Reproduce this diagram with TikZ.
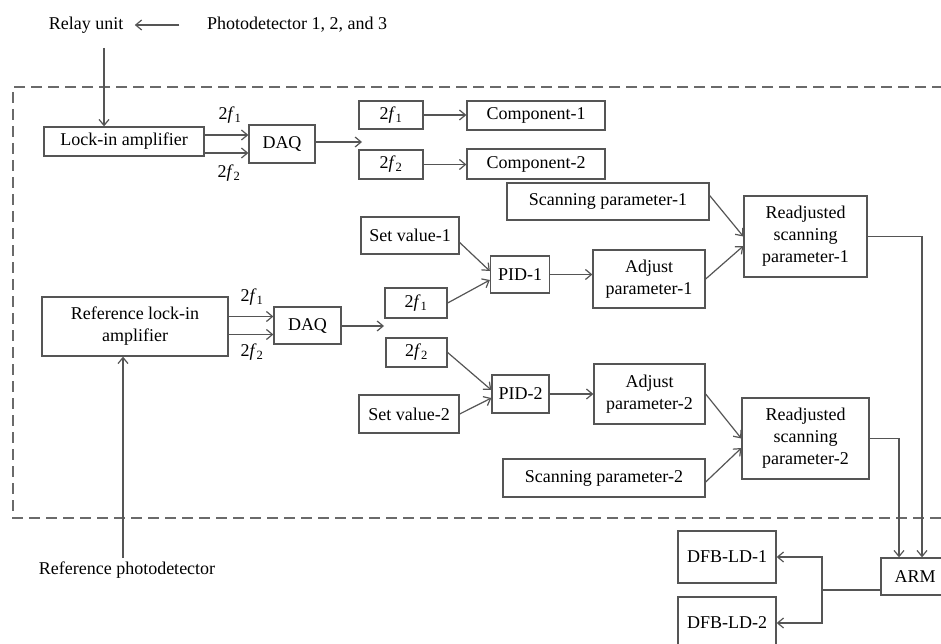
\documentclass[tikz,border=0pt]{standalone}
\usepackage{fontspec}
\setmainfont{Liberation Serif}
\usetikzlibrary{arrows.meta}
\definecolor{linegray}{HTML}{555555}
\definecolor{dashgray}{HTML}{6A6A6A}
\newcommand{\ff}[1]{2\textit{f}\textsubscript{#1}}
\begin{document}
\begin{tikzpicture}[x=1pt,y=-1pt,>={Straight Barb[length=6pt,width=10pt]},
    font=\fontsize{18}{22}\selectfont,
    bx/.style 2 args={draw=linegray,line width=1.3pt,align=center,inner sep=0pt,minimum width=#1pt,minimum height=#2pt},
    wire/.style={draw=linegray,line width=1.2pt}]
\useasboundingbox (0,0) rectangle (941,644);
% dashed frame
\draw[dashgray,line width=1.8pt,dash pattern=on 11pt off 6pt] (960,87) -- (13,87) -- (13,518) -- (960,518);
% boxes
\foreach \n/\x/\y/\w/\h/\t in {
    lia/124/141.5/160/29/{Lock-in amplifier},
    daqA/282/144/66/38/{DAQ},
    fa1/391/115/64/28/{\ff{1}},
    fa2/391/164.5/64/29/{\ff{2}},
    comp1/536/115.5/138/29/{Component-1},
    comp2/536/164/138/30/{Component-2},
    scan1/608/201.5/202/37/{Scanning parameter-1},
    read1/805.5/236.5/123/81/{Readjusted\\scanning\\parameter-1},
    setv1/410/235.5/98/37/{Set value-1},
    pid1/520/274.5/59/37/{PID-1},
    adj1/649/279/112/58/{Adjust\\parameter-1},
    rlia/135/326.5/186/59/{Reference lock-in\\amplifier},
    daqB/307.5/325.5/67/37/{DAQ},
    fb1/416/303/62/30/{\ff{1}},
    fb2/416.5/352.5/61/29/{\ff{2}},
    setv2/409/414/100/38/{Set value-2},
    pid2/520.5/394/57/38/{PID-2},
    adj2/649.5/394/111/60/{Adjust\\parameter-2},
    read2/805.5/438.5/127/81/{Readjusted\\scanning\\parameter-2},
    scan2/604/478/202/38/{Scanning parameter-2},
    arm/915/576.5/68/37/{ARM},
    dfb1/727/557/98/52/{DFB-LD-1},
    dfb2/727/623/98/52/{DFB-LD-2}}
  \node[bx={\w}{\h}] (\n) at (\x,\y) {\t};
% free texts
\node (relay) at (86,25) {Relay unit};
\node (pd) at (297,25) {Photodetector 1, 2, and 3};
\node (refpd) at (127,570) {Reference photodetector};
\node (la1) at (230,115) {\ff{1}};
\node (la2) at (229,173) {\ff{2}};
\node (lb1) at (252,297) {\ff{1}};
\node (lb2) at (252,352) {\ff{2}};
\coordinate (splitA) at (362,142);
\coordinate (splitB) at (384,326);
\coordinate (fork) at (822,590);
% connectors
\draw[wire,->,shorten <=24pt,shorten >=8pt] (pd.west) -- (relay.east);
\draw[wire,->] ([xshift=18pt,yshift=-23pt]relay.center) -- ([xshift=18pt]relay.center |- lia.north);
\draw[wire,->] ([xshift=-4pt]refpd.north) -- ([xshift=-4pt]refpd.north |- rlia.south);
\foreach \s in {9,-9} {
  \draw[wire,->] ([yshift=\s pt]daqA.west -| lia.east) -- ([yshift=\s pt]daqA.west);
  \draw[wire,->] ([yshift=\s pt]daqB.west -| rlia.east) -- ([yshift=\s pt]daqB.west);
}
\draw[wire,->] (daqA.east |- splitA) -- (splitA);
\draw[wire,->] (daqB.east |- splitB) -- (splitB);
\draw[wire,->] (fa1) -- (fa1 -| comp1.west);
\draw[wire,->] (fa2) -- (fa2 -| comp2.west);
\draw[wire,->] ([yshift=-7pt]setv1.east) -- ([yshift=3.5pt]pid1.west);
\draw[wire,->] (fb1.east) -- ([yshift=-5.5pt]pid1.west);
\draw[wire,->] (pid1) -- (pid1 -| adj1.west);
\draw[wire,->] ([yshift=6pt]scan1.east) -- (read1.west);
\draw[wire,->] (adj1.east) -- ([yshift=-9.5pt]read1.west);
\draw[wire,->] (fb2.east) -- ([yshift=4pt]pid2.west);
\draw[wire,->] (setv2.east) -- ([yshift=-4pt]pid2.west);
\draw[wire,->] (pid2) -- (pid2 -| adj2.west);
\draw[wire,->] (adj2.east) -- (read2.west);
\draw[wire,->] ([yshift=-4pt]scan2.east) -- ([yshift=-9.5pt]read2.west);
\draw[wire,->] (read1.east) -| ([xshift=7pt]arm.north);
\draw[wire,->] (read2.east) -| ([xshift=-16pt]arm.north);
\draw[wire] (arm.west |- fork) -- (fork);
\draw[wire,->] (fork) |- (dfb1.east);
\draw[wire,->] (fork) |- (dfb2.east);
\end{tikzpicture}
\end{document}
